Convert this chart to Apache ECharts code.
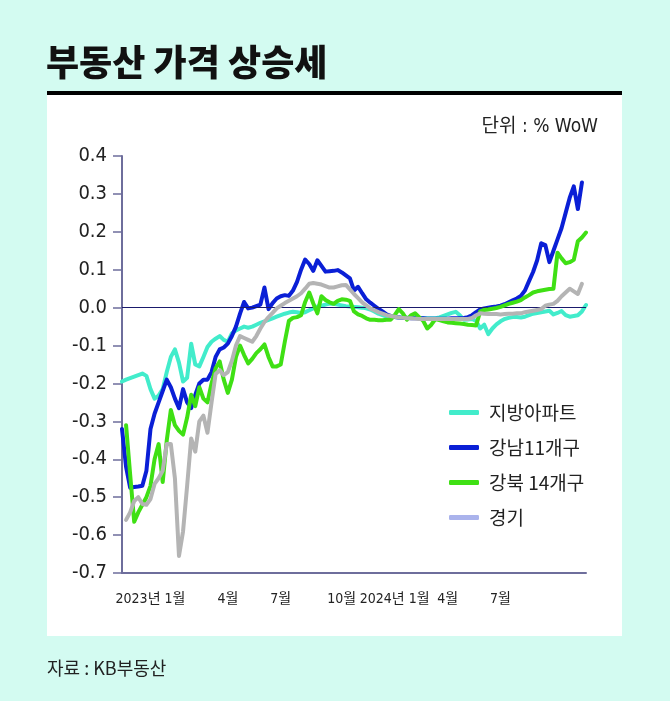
<!DOCTYPE html>
<html><head><meta charset="utf-8">
<script src="https://cdn.jsdelivr.net/npm/echarts@6.0.0/dist/echarts.min.js"></script>
<style>html,body{margin:0;padding:0;background:#d3fbf1}#c{width:670px;height:701px}</style>
</head><body><div id="c"></div><script>
// Weekly observations (index = week number from start of chart)
const weekCount = 115;
const weeks = Array.from({length: weekCount}, (_, i) => 'W' + (i + 1));

const labelWeeks = [7, 26, 39, 54, 67, 80, 93];
const labelTexts = ['2023년 1월', '4월', '7월', '10월', '2024년 1월', '4월', '7월'];

const yTicks = [-0.7, -0.6, -0.5, -0.4, -0.3, -0.2, -0.1, 0.0, 0.1, 0.2, 0.3, 0.4];

const seriesNames = ['지방아파트', '강남11개구', '강북 14개구', '경기'];

const regional = [-0.195,-0.19,-0.186,-0.182,-0.178,-0.174,-0.18,-0.215,-0.24,-0.232,-0.215,-0.17,-0.13,-0.11,-0.145,-0.195,-0.185,-0.095,-0.15,-0.155,-0.13,-0.104,-0.09,-0.082,-0.075,-0.085,-0.09,-0.068,-0.06,-0.055,-0.05,-0.053,-0.05,-0.045,-0.04,-0.036,-0.032,-0.028,-0.024,-0.02,-0.016,-0.013,-0.011,-0.012,-0.014,-0.012,-0.007,-0.002,0.003,0.005,0.008,0.011,0.01,0.008,0.006,0.004,0.003,0.002,0.001,0.0,-0.002,-0.005,-0.01,-0.016,-0.02,-0.024,-0.025,-0.025,-0.026,-0.026,-0.027,-0.027,-0.027,-0.028,-0.028,-0.028,-0.028,-0.028,-0.026,-0.022,-0.018,-0.014,-0.011,-0.02,-0.032,-0.031,-0.03,-0.035,-0.055,-0.045,-0.07,-0.055,-0.044,-0.036,-0.03,-0.027,-0.025,-0.025,-0.026,-0.024,-0.02,-0.016,-0.014,-0.012,-0.01,-0.008,-0.018,-0.014,-0.009,-0.02,-0.024,-0.022,-0.02,-0.01,0.007];

const gangnam = [-0.32,-0.42,-0.475,-0.473,-0.472,-0.47,-0.43,-0.32,-0.28,-0.25,-0.22,-0.19,-0.21,-0.24,-0.265,-0.215,-0.25,-0.265,-0.23,-0.2,-0.19,-0.19,-0.17,-0.13,-0.11,-0.105,-0.095,-0.075,-0.05,-0.016,0.015,-0.002,0.0,0.004,0.008,0.053,-0.004,0.012,0.024,0.03,0.033,0.031,0.045,0.068,0.1,0.127,0.115,0.097,0.125,0.11,0.095,0.096,0.097,0.099,0.093,0.085,0.077,0.045,0.055,0.038,0.022,0.013,0.005,-0.003,-0.01,-0.018,-0.022,-0.025,-0.026,-0.027,-0.027,-0.028,-0.028,-0.028,-0.028,-0.029,-0.029,-0.029,-0.029,-0.029,-0.029,-0.028,-0.028,-0.028,-0.027,-0.025,-0.02,-0.012,-0.005,-0.002,0.0,0.002,0.003,0.005,0.009,0.014,0.019,0.024,0.031,0.045,0.07,0.094,0.125,0.17,0.165,0.12,0.15,0.18,0.21,0.25,0.29,0.32,0.26,0.33,null];

const gangbuk = [null,-0.31,-0.44,-0.565,-0.54,-0.52,-0.5,-0.47,-0.4,-0.36,-0.46,-0.35,-0.27,-0.31,-0.325,-0.335,-0.29,-0.23,-0.26,-0.21,-0.24,-0.25,-0.2,-0.16,-0.142,-0.19,-0.225,-0.19,-0.13,-0.1,-0.125,-0.147,-0.135,-0.12,-0.11,-0.097,-0.13,-0.155,-0.155,-0.15,-0.09,-0.035,-0.027,-0.025,-0.02,0.015,0.04,0.011,-0.015,0.03,0.02,0.014,0.01,0.018,0.022,0.021,0.018,-0.01,-0.018,-0.022,-0.028,-0.032,-0.032,-0.033,-0.033,-0.032,-0.032,-0.02,-0.004,-0.015,-0.032,-0.02,-0.015,-0.025,-0.035,-0.055,-0.045,-0.03,-0.033,-0.036,-0.039,-0.04,-0.041,-0.042,-0.043,-0.045,-0.046,-0.047,-0.01,-0.006,-0.005,-0.003,-0.001,0.002,0.006,0.01,0.013,0.016,0.02,0.027,0.033,0.04,0.043,0.045,0.047,0.049,0.05,0.145,0.13,0.117,0.12,0.126,0.175,0.185,0.198];

const gyeonggi = [null,-0.56,-0.54,-0.51,-0.5,-0.518,-0.52,-0.505,-0.465,-0.45,-0.43,-0.36,-0.36,-0.45,-0.655,-0.59,-0.47,-0.345,-0.38,-0.3,-0.285,-0.33,-0.25,-0.175,-0.165,-0.178,-0.17,-0.14,-0.1,-0.075,-0.08,-0.085,-0.09,-0.075,-0.055,-0.038,-0.025,-0.014,-0.002,0.005,0.012,0.018,0.024,0.03,0.038,0.05,0.063,0.065,0.063,0.061,0.057,0.053,0.053,0.056,0.059,0.06,0.048,0.036,0.025,0.014,0.006,-0.002,-0.007,-0.012,-0.016,-0.02,-0.022,-0.024,-0.026,-0.027,-0.028,-0.028,-0.029,-0.03,-0.03,-0.03,-0.03,-0.03,-0.03,-0.03,-0.03,-0.03,-0.03,-0.03,-0.03,-0.03,-0.027,-0.02,-0.015,-0.016,-0.017,-0.017,-0.017,-0.018,-0.017,-0.016,-0.016,-0.015,-0.015,-0.012,-0.01,-0.008,-0.006,-0.004,0.005,0.008,0.01,0.018,0.03,0.04,0.05,0.043,0.036,0.063,null];

const NARROW = "'Liberation Sans Narrow','DejaVu Sans Condensed','Liberation Sans','Noto Sans CJK KR',sans-serif";
const KR = "'Noto Sans CJK KR','Noto Sans',sans-serif";

const lineColors = ['#42eccb', '#0a1fd6', '#3fe014', '#b4b4b4'];
const legendColors = ['#42eccb', '#0a1fd6', '#3fe014', '#aab3ec'];
const dataSets = [regional, gangnam, gangbuk, gyeonggi];

const chart = echarts.init(document.getElementById('c'), null, {renderer: 'canvas'});

const series = seriesNames.map((name, k) => ({
  name: name,
  type: 'line',
  data: dataSets[k],
  showSymbol: false,
  symbol: 'none',
  z: 3 + k,
  itemStyle: {color: legendColors[k]},
  lineStyle: {color: lineColors[k], width: 4, join: 'round', cap: 'round'},
  animation: false
}));
series.unshift({
  name: 'zero', type: 'line', data: [], z: 1, silent: true,
  markLine: {
    silent: true, symbol: 'none', animation: false,
    label: {show: false},
    lineStyle: {color: '#1a1a6c', width: 1.2, type: 'solid'},
    data: [{yAxis: 0}]
  }
});

chart.setOption({
  backgroundColor: '#d3fbf1',
  animation: false,
  graphic: [
    {type: 'rect', z: -10, shape: {x: 47, y: 95, width: 575, height: 541}, style: {fill: '#ffffff'}},
    {type: 'rect', z: -9, shape: {x: 47, y: 91, width: 575, height: 4}, style: {fill: '#000000'}},
    {type: 'text', x: 46, y: 62, style: {text: '부동산 가격 상승세', fontFamily: KR, fontWeight: 900, fontSize: 36, fill: '#111111', textVerticalAlign: 'middle'}},
    {type: 'text', x: 598, y: 127, style: {text: '단위 : % WoW', fontFamily: NARROW, fontSize: 19, fill: '#222222', textAlign: 'right', textVerticalAlign: 'middle'}},
    {type: 'text', x: 47, y: 668, style: {text: '자료 : KB부동산', fontFamily: KR, fontSize: 18, fill: '#222222', textVerticalAlign: 'middle'}}
  ],
  grid: {left: 122, right: 84, top: 156, bottom: 128, containLabel: false},
  legend: {
    orient: 'vertical', left: 444, top: 398, itemGap: 16,
    itemWidth: 30, itemHeight: 5, icon: 'roundRect',
    textStyle: {fontFamily: KR, fontSize: 19, color: '#222222', padding: [0, 0, 0, 5]},
    data: seriesNames.map((n, k) => ({name: n, itemStyle: {color: legendColors[k]}, lineStyle: {color: legendColors[k]}}))
  },
  xAxis: {
    type: 'category', data: weeks, boundaryGap: false,
    axisLine: {onZero: false, lineStyle: {color: '#6e6e9c', width: 2}},
    axisTick: {show: false},
    splitLine: {show: false},
    axisLabel: {
      interval: (idx) => labelWeeks.indexOf(idx) >= 0,
      formatter: (val, idx) => labelTexts[labelWeeks.indexOf(idx)],
      fontFamily: NARROW, fontSize: 14, color: '#222222', margin: 19, hideOverlap: false
    }
  },
  yAxis: {
    type: 'value', min: yTicks[0], max: yTicks[yTicks.length - 1], interval: 0.1,
    axisLine: {show: true, lineStyle: {color: '#6e6e9c', width: 2}},
    axisTick: {show: true, length: 9, lineStyle: {color: '#6e6e9c', width: 1.5}},
    splitLine: {show: false},
    axisLabel: {fontFamily: NARROW, fontSize: 20, color: '#222222', margin: 15,
      formatter: (v) => v.toFixed(1)}
  },
  series: series
});
</script></body></html>
